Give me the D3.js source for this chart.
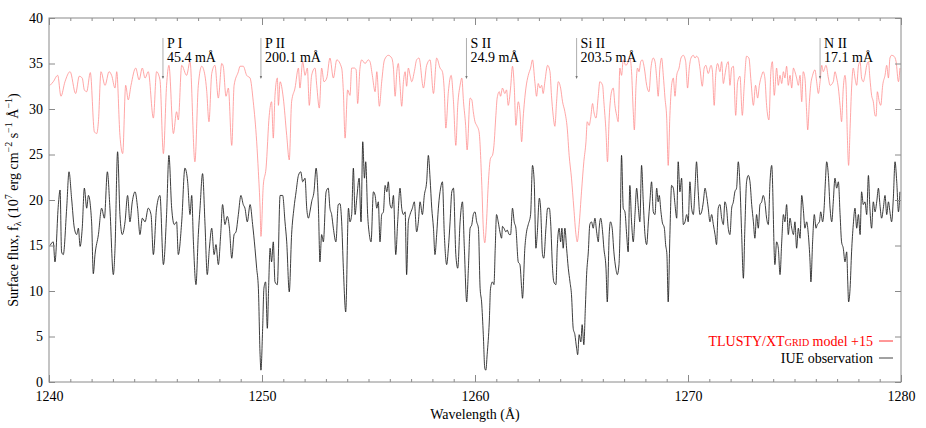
<!DOCTYPE html>
<html><head><meta charset="utf-8">
<script src="https://cdn.jsdelivr.net/npm/d3@7"></script>
<style>
body{margin:0;background:#fff;}
svg{display:block;font-family:"Liberation Serif","DejaVu Serif",serif;}
</style></head>
<body><svg id="c" width="926" height="428"></svg>
<script>
// ---- data (wavelength offsets from 1240 Å, flux in 1e7 erg cm^-2 s^-1 Å^-1) ----
const modelWave = [0.05,0.20,0.41,0.56,0.75,0.99,1.25,1.42,1.56,1.66,1.77,1.94,2.13,2.24,2.32,2.44,2.63,2.82,2.94,3.10,3.18,3.33,3.46,3.60,3.72,3.85,4.07,4.23,4.38,4.51,4.66,4.90,5.05,5.21,5.37,5.52,5.63,5.84,5.99,6.07,6.23,6.46,6.62,
6.85,7.01,7.17,7.32,7.40,7.51,7.64,7.79,7.95,8.11,8.18,8.31,8.42,8.58,8.69,8.89,8.97,9.12,9.28,9.44,9.59,9.75,9.83,9.91,9.95,10.06,10.19,10.34,10.45,10.53,10.61,10.72,10.77,10.85,11.00,11.16,11.28,11.39,11.55,11.71,11.78,11.91,12.02,12.13,12.22,12.33,12.49,12.57,12.69,12.80,12.91,13.04,13.19,13.35,13.51,
13.74,13.82,13.90,14.02,14.13,14.21,14.34,14.42,14.49,14.60,14.68,14.84,14.99,15.07,15.18,15.31,15.39,15.51,15.62,15.75,15.93,16.09,16.17,16.25,16.33,16.40,16.48,16.56,16.64,16.72,16.79,16.87,16.95,17.03,17.15,17.26,17.37,17.58,17.73,17.89,18.05,18.20,18.36,18.47,18.56,18.63,18.75,18.88,18.99,19.10,19.19,19.30,19.38,19.46,19.56,19.63,19.77,19.85,19.92,20.00,20.08,20.19,20.32,
20.39,20.46,20.54,20.62,20.73,20.82,20.89,20.98,21.04,21.14,21.20,21.29,21.40,21.48,21.56,21.67,21.76,21.84,21.92,22.03,22.11,22.19,22.26,22.39,22.50,22.61,22.70,22.81,22.89,22.97,23.05,23.13,23.20,23.28,23.41,23.52,23.59,23.67,23.75,23.83,23.91,24.02,24.11,24.22,24.33,24.42,24.53,24.64,24.74,24.80,24.89,25.00,25.11,25.21,25.27,25.36,25.43,25.52,25.58,25.68,25.79,25.86,25.99,26.05,26.15,26.22,26.30,26.41,26.49,26.57,26.65,26.72,26.80,26.88,26.96,27.08,
27.20,27.27,27.35,27.43,27.48,27.56,27.63,27.70,27.78,27.85,27.95,28.06,28.17,28.26,28.37,28.45,28.53,28.60,28.68,28.76,28.84,28.92,29.00,29.07,29.15,29.23,29.31,29.39,29.47,29.58,29.67,29.78,29.89,29.98,30.06,30.14,30.25,30.33,30.40,30.48,30.56,30.67,30.76,30.84,30.95,31.08,31.14,31.23,31.30,31.39,31.50,31.58,31.66,31.73,31.81,31.89,31.97,32.05,32.13,32.24,32.33,32.44,32.55,32.64,32.75,32.86,32.96,33.07,33.17,33.27,33.35,33.46,33.53,33.61,33.69,33.80,33.89,33.96,34.05,
34.16,34.24,34.32,34.40,34.48,34.55,34.63,34.71,34.79,34.87,34.95,35.02,35.10,35.18,35.26,35.34,35.41,35.49,35.57,35.62,35.70,35.76,35.85,35.96,36.04,36.12,36.20,36.28,36.35,36.48,36.59,36.67,36.82,36.90,36.98,37.06,37.14,37.21,37.29,37.37,37.42,37.48,37.54,37.61,37.68,37.76,37.84,37.92,38.00,38.08,38.15,38.23,38.31,38.39,38.47,38.54,38.62,38.70,38.78,38.83,38.89,38.98,39.05,39.14,39.25,39.33,39.41,39.48,39.56,39.67,39.77,39.88,39.95];
const modelFlux = [32.6,33.0,33.7,31.4,33.0,34.1,31.7,33.6,33.4,32.1,31.9,34.0,27.5,27.3,28.6,34.1,32.6,34.1,33.7,32.3,34.1,27.1,25.1,32.6,31.0,32.6,34.5,33.2,34.5,33.4,34.1,29.0,34.1,33.2,25.1,32.6,34.8,27.3,29.7,28.8,34.8,33.7,35.2,
24.2,32.6,34.7,33.7,32.1,28.6,33.9,34.8,31.2,35.0,34.7,31.4,32.3,26.0,32.6,34.1,34.7,34.7,33.7,33.4,30.8,26.4,23.1,19.1,16.0,21.6,23.5,29.3,30.8,26.8,31.5,33.4,30.4,33.0,31.2,27.1,24.4,30.8,32.3,34.5,32.3,35.2,33.7,34.5,30.4,33.7,34.5,32.6,30.1,34.5,33.0,33.4,35.6,33.4,35.4,
34.5,31.9,26.8,32.1,31.5,34.5,34.5,34.3,30.6,34.5,35.4,35.0,35.4,35.2,33.7,31.9,34.1,30.3,33.0,35.4,35.9,35.6,34.5,31.4,34.1,35.0,32.6,30.3,33.0,34.1,32.5,34.5,33.7,33.0,34.1,35.4,35.6,32.3,34.8,35.4,31.7,35.6,34.5,34.1,31.9,27.9,31.9,33.7,30.8,26.0,30.4,32.6,33.4,30.8,28.2,25.5,31.2,31.0,29.7,28.6,28.2,27.5,21.6,
16.9,15.3,17.6,21.6,24.6,24.9,26.0,29.3,31.2,31.9,31.4,32.3,31.7,32.1,30.4,32.3,34.7,32.6,28.2,30.8,29.7,26.4,29.0,32.3,33.7,34.5,35.4,33.0,31.4,32.8,32.3,32.6,31.7,33.0,34.8,34.1,31.5,29.3,28.1,30.8,33.0,32.3,30.8,29.7,27.9,24.9,22.4,19.1,16.2,15.4,17.3,20.9,24.2,26.4,28.6,28.2,29.0,30.6,29.7,29.0,31.5,33.0,32.6,30.8,27.5,24.2,29.0,31.9,32.3,30.4,29.3,28.6,34.5,33.7,35.4,34.8,
35.2,35.6,34.1,29.7,27.7,32.6,34.5,34.1,35.2,35.4,34.5,32.6,31.9,34.5,35.6,35.2,33.4,31.4,34.5,35.6,33.7,31.2,29.0,23.8,29.3,32.6,33.4,31.4,33.7,34.5,35.6,35.9,35.2,32.3,34.5,35.6,35.9,35.6,35.8,35.6,34.5,32.5,34.5,34.8,33.9,34.8,34.3,30.4,33.7,35.0,34.1,35.2,32.8,33.7,34.8,35.2,32.6,34.5,34.7,29.3,33.0,33.6,29.3,32.6,35.8,35.6,33.0,30.4,32.6,31.2,32.6,33.7,34.1,33.4,30.4,28.8,34.1,35.2,31.5,
34.5,32.6,33.7,32.8,34.1,33.4,34.7,32.6,33.7,32.3,34.5,34.1,33.4,32.6,33.7,30.8,34.1,33.4,29.7,27.7,30.8,32.6,33.7,34.3,33.0,31.7,33.0,34.8,34.1,34.8,33.4,32.6,33.0,34.1,33.4,32.3,30.4,28.6,32.3,33.7,32.6,27.1,23.8,27.9,32.3,34.5,33.4,32.6,34.7,35.2,33.4,33.0,33.7,34.8,35.2,33.4,31.5,30.8,29.3,29.2,31.9,30.8,30.4,32.6,33.7,34.8,33.4,35.6,35.9,35.8,35.2,33.0,34.5];

const obsWave = [0.05,0.20,0.28,0.44,0.52,0.59,0.67,0.83,0.94,1.06,1.19,1.30,1.38,1.46,1.56,1.66,1.77,1.85,2.00,2.08,2.16,2.32,2.47,2.60,2.74,2.86,3.02,3.10,3.22,3.33,3.44,3.57,3.69,3.80,3.91,4.04,4.16,4.27,4.38,4.51,4.66,4.79,4.90,5.05,5.21,5.37,5.52,5.63,5.76,5.88,5.99,6.07,6.23,6.38,6.51,6.62,6.70,
6.78,6.90,7.01,7.09,7.21,7.32,7.43,7.53,7.64,7.75,7.84,7.95,8.06,8.15,8.26,8.37,8.47,8.58,8.69,8.78,8.89,9.01,9.12,9.20,9.31,9.44,9.56,9.67,9.75,9.83,9.91,9.95,10.03,10.09,10.17,10.25,10.31,10.38,10.45,10.53,10.61,10.72,10.85,10.97,11.08,11.16,11.28,11.39,11.50,11.60,11.71,11.82,11.91,12.02,12.10,12.18,12.25,12.33,12.44,12.54,12.65,12.72,12.80,12.88,13.01,13.11,13.19,13.27,13.35,13.47,13.58,
13.66,13.74,13.82,13.93,14.06,14.13,14.21,14.29,14.37,14.45,14.56,14.65,14.73,14.81,14.87,14.96,15.04,15.12,15.23,15.31,15.39,15.46,15.54,15.62,15.70,15.78,15.86,15.93,16.01,16.09,16.17,16.28,16.37,16.48,16.56,16.64,16.72,16.79,16.87,16.95,17.06,17.15,17.26,17.34,17.42,17.53,17.62,17.73,17.81,17.89,17.97,18.05,18.12,18.20,18.28,18.41,18.47,18.56,18.67,18.75,18.83,18.91,18.99,19.10,19.19,19.30,19.41,19.50,19.61,19.69,19.77,19.85,19.92,20.00,20.08,20.16,20.24,
20.31,20.39,20.46,20.51,20.57,20.67,20.73,20.82,20.89,20.95,21.01,21.09,21.17,21.25,21.29,21.36,21.45,21.51,21.61,21.67,21.76,21.84,21.92,22.03,22.11,22.19,22.23,22.34,22.42,22.50,22.61,22.70,22.78,22.86,22.92,23.02,23.08,23.17,23.23,23.33,23.41,23.49,23.55,23.64,23.70,23.80,23.86,23.95,24.02,24.08,24.14,24.22,24.30,24.38,24.46,24.53,24.61,24.69,24.77,24.82,24.89,24.97,25.03,25.11,25.18,25.24,25.32,25.39,25.47,25.55,25.63,25.71,25.79,25.83,25.90,25.99,26.05,26.15,26.21,26.30,26.36,26.44,26.52,26.61,26.68,26.76,26.82,26.88,26.96,27.04,27.12,27.19,
27.27,27.35,27.43,27.51,27.59,27.67,27.74,27.82,27.90,27.98,28.06,28.14,28.21,28.29,28.37,28.45,28.53,28.60,28.65,28.73,28.79,28.89,28.95,29.01,29.07,29.15,29.23,29.31,29.39,29.47,29.54,29.62,29.70,29.78,29.86,29.94,30.01,30.09,30.17,30.25,30.33,30.40,30.48,30.56,30.64,30.72,30.80,30.87,30.95,31.03,31.11,31.19,31.27,31.34,31.42,31.50,31.58,31.66,31.73,31.81,31.89,31.97,32.05,32.13,32.20,32.28,32.36,32.44,32.52,32.60,32.67,32.75,32.83,32.91,32.99,33.07,33.14,33.22,33.30,33.38,33.46,33.53,33.61,33.69,33.77,33.85,33.93,
34.08,34.16,34.24,34.32,34.40,34.48,34.55,34.63,34.71,34.79,34.87,34.95,35.02,35.10,35.18,35.26,35.34,35.41,35.49,35.57,35.65,35.73,35.77,35.85,35.93,36.01,36.07,36.17,36.23,36.32,36.39,36.45,36.51,36.59,36.67,36.75,36.82,36.90,36.98,37.06,37.14,37.21,37.29,37.37,37.45,37.50,37.54,37.61,37.68,37.76,37.84,37.92,38.00,38.08,38.15,38.23,38.31,38.39,38.47,38.54,38.62,38.70,38.78,38.86,38.94,39.01,39.09,39.17,39.25,39.33,39.41,39.48,39.56,39.64,39.72,39.80,39.88,39.95];
const obsFlux = [15.0,15.4,13.2,19.5,21.1,14.3,14.0,19.1,23.1,20.2,16.9,16.2,16.9,14.9,16.9,21.3,19.1,20.5,17.6,11.9,14.0,16.2,19.1,18.0,23.1,19.1,11.8,14.7,25.3,18.4,16.2,17.6,20.5,17.6,19.8,20.9,19.1,16.2,18.0,17.6,19.1,18.4,14.0,19.1,20.5,12.9,18.4,24.9,19.1,17.3,17.6,14.0,17.6,23.5,22.0,18.4,20.5,
15.4,10.7,16.2,19.1,22.9,17.6,11.8,14.7,16.9,14.0,15.1,12.9,16.2,19.5,17.3,18.2,16.9,13.6,16.2,16.5,18.4,20.5,19.5,19.1,17.6,19.5,17.3,14.7,12.5,10.3,3.0,1.3,5.9,10.3,11.0,5.9,10.3,14.7,13.2,15.4,11.0,10.7,20.5,20.5,17.6,15.4,9.9,16.2,19.1,20.9,22.7,23.1,22.0,22.4,19.1,18.0,18.7,19.8,20.9,23.5,19.1,13.2,16.2,15.4,20.9,21.3,19.1,18.4,16.9,15.4,19.5,
19.6,17.6,12.5,7.7,19.1,17.6,18.4,23.5,18.4,20.2,22.4,17.6,26.4,22.4,24.2,18.4,16.2,15.4,20.9,20.5,19.1,19.8,15.4,18.4,18.7,21.6,20.9,22.0,19.5,19.1,20.5,14.0,17.6,21.3,19.1,18.4,18.7,11.8,17.6,18.4,19.1,19.8,16.5,17.6,19.8,18.4,20.5,22.0,24.9,22.4,19.1,16.9,14.0,16.2,19.1,21.6,22.0,16.2,12.9,14.7,17.6,20.9,21.3,14.0,12.5,17.6,19.8,14.7,8.8,12.5,16.9,17.3,18.4,18.7,17.6,16.9,10.3,
8.8,5.2,1.5,1.3,3.0,6.6,10.3,11.0,10.7,14.7,18.4,17.6,16.5,15.8,17.1,16.9,16.5,16.7,16.2,16.2,19.1,17.6,16.9,13.2,12.9,10.3,9.2,14.7,16.5,17.3,18.4,23.8,22.0,14.7,16.2,20.2,19.1,14.0,13.6,16.9,19.1,19.1,17.6,12.5,11.0,10.7,14.7,16.9,15.4,16.9,14.7,16.9,14.7,12.5,11.0,9.6,5.9,5.2,3.7,3.0,5.2,4.4,6.3,4.1,8.1,11.8,14.3,17.3,17.6,16.9,18.0,16.5,15.4,16.9,18.0,16.5,14.7,12.5,8.8,16.2,17.6,16.9,14.3,12.5,11.8,12.9,17.6,24.9,19.1,18.7,16.2,14.3,
21.6,17.6,15.4,18.4,21.3,19.1,17.6,23.8,19.8,16.2,15.1,17.6,19.8,22.0,18.7,18.4,21.3,19.8,20.5,18.7,17.6,16.9,15.1,14.0,8.8,16.2,21.6,21.3,19.5,18.0,24.2,20.9,22.4,17.3,17.6,18.4,17.6,22.0,19.1,18.4,21.3,24.2,20.9,18.4,18.7,19.8,21.3,20.5,19.1,17.6,18.4,17.3,16.2,15.1,19.1,19.5,18.0,17.3,19.8,19.1,16.9,16.2,19.1,19.8,20.9,21.3,24.2,21.6,16.2,11.4,16.9,22.0,22.7,22.0,19.5,17.6,15.8,18.4,16.9,19.5,19.8,20.5,19.8,18.0,17.3,22.0,23.8,
12.9,15.4,14.7,11.8,15.4,18.4,17.6,19.5,16.2,18.0,16.9,16.2,17.6,14.7,16.9,15.8,20.5,19.1,16.9,17.6,16.2,13.2,11.0,15.4,18.4,16.9,17.3,17.6,18.7,17.6,19.1,22.0,24.2,22.7,19.1,17.6,19.8,22.4,21.3,22.0,18.4,15.4,14.7,13.2,14.3,11.0,8.8,10.3,14.3,17.3,19.1,16.9,18.4,16.2,20.9,19.5,19.8,18.4,22.7,19.1,16.9,19.8,18.7,19.8,21.3,19.5,18.0,19.1,20.5,18.4,19.8,18.7,17.6,20.2,24.2,22.0,18.7,20.9];

const waveBase = 1240;
const xTicksMajor = [1240,1250,1260,1270,1280];
const yTicks = [0,5,10,15,20,25,30,35,40];
const lineIds = ["P I","P II","S II","Si II","N II"];
const lineWaves = [1245.35,1249.95,1259.60,1264.77,1276.20];
const lineEW = ["45.4 mÅ","200.1 mÅ","24.9 mÅ","203.5 mÅ","17.1 mÅ"];

// ---- drawing ----
const svg = d3.select("#c");
const L=49, R=901, T=18, B=382;
const x = d3.scaleLinear().domain([1240,1280]).range([L,R]);
const y = d3.scaleLinear().domain([0,40]).range([B,T]);
const frame = "#8a8a8a";

const model = modelWave.map((w,i)=>[w+waveBase, modelFlux[i]]);
const obs = obsWave.map((w,i)=>[w+waveBase, obsFlux[i]]);
const line = d3.line().x(d=>x(d[0])).y(d=>y(d[1])).curve(d3.curveMonotoneX);

svg.append("path").datum(model).attr("d",line).attr("fill","none")
  .attr("stroke","#ff8888").attr("stroke-width",0.75);
svg.append("path").datum(obs).attr("d",line).attr("fill","none")
  .attr("stroke","#1a1a1a").attr("stroke-width",0.85);

// frame
svg.append("rect").attr("x",L).attr("y",T).attr("width",R-L).attr("height",B-T)
  .attr("fill","none").attr("stroke",frame).attr("stroke-width",1);

const minor = d3.range(1240,1281,1);
function styleAxis(g){ g.select(".domain").remove(); g.selectAll(".tick line").attr("stroke",frame);
  g.selectAll("text").attr("fill","#000").style("font-size","14px").style("font-family","'Liberation Serif',serif"); }

svg.append("g").attr("transform",`translate(0,${B})`)
  .call(d3.axisBottom(x).tickValues(minor).tickSize(-3).tickFormat(""))
  .call(styleAxis);
svg.append("g").attr("transform",`translate(0,${T})`)
  .call(d3.axisTop(x).tickValues(minor).tickSize(-3).tickFormat(""))
  .call(styleAxis);
svg.append("g").attr("transform",`translate(0,${B})`)
  .call(d3.axisBottom(x).tickValues(xTicksMajor).tickSize(-7).tickPadding(9).tickFormat(d3.format("d")))
  .call(styleAxis);
svg.append("g").attr("transform",`translate(0,${T})`)
  .call(d3.axisTop(x).tickValues(xTicksMajor).tickSize(-7).tickFormat(""))
  .call(styleAxis);
svg.append("g").attr("transform",`translate(${L},0)`)
  .call(d3.axisLeft(y).tickValues(yTicks).tickSize(-6).tickPadding(6).tickFormat(d3.format("d")))
  .call(styleAxis);
svg.append("g").attr("transform",`translate(${R},0)`)
  .call(d3.axisRight(y).tickValues(yTicks).tickSize(-6).tickFormat(""))
  .call(styleAxis);

// axis titles
svg.append("text").attr("x",(L+R)/2).attr("y",419).attr("text-anchor","middle")
  .style("font-size","14px").text("Wavelength (Å)");
const yt = svg.append("text").attr("transform",`translate(18,${(T+B)/2}) rotate(-90)`)
  .attr("text-anchor","middle").style("font-size","14px");
yt.append("tspan").text("Surface flux, f");
yt.append("tspan").attr("dy",3).style("font-size","10px").text("λ");
yt.append("tspan").attr("dy",-3).text(" (10");
yt.append("tspan").attr("dy",-6).style("font-size","10px").text("7");
yt.append("tspan").attr("dy",6).text(" erg cm");
yt.append("tspan").attr("dy",-6).style("font-size","10px").text("−2");
yt.append("tspan").attr("dy",6).text(" s");
yt.append("tspan").attr("dy",-6).style("font-size","10px").text("−1");
yt.append("tspan").attr("dy",6).text(" Å");
yt.append("tspan").attr("dy",-6).style("font-size","10px").text("−1");
yt.append("tspan").attr("dy",6).text(")");

// line annotations
lineWaves.forEach((w,i)=>{
  const px = x(w);
  svg.append("line").attr("x1",px).attr("x2",px).attr("y1",38).attr("y2",78)
    .attr("stroke","#999").attr("stroke-width",0.8);
  svg.append("path").attr("d",`M${px-1.2},76 L${px+1.2},76 L${px},79 Z`).attr("fill","#777");
  svg.append("text").attr("x",px+4).attr("y",48).style("font-size","14px").text(lineIds[i]);
  svg.append("text").attr("x",px+4).attr("y",62).style("font-size","14px").text(lineEW[i]);
});

// legend
const lg1 = svg.append("text").attr("x",873).attr("y",346).attr("text-anchor","end")
  .attr("fill","#ff0000").style("font-size","14px");
lg1.append("tspan").text("TLUSTY/XT");
lg1.append("tspan").style("font-size","10px").text("GRID");
lg1.append("tspan").text(" model +15");
svg.append("line").attr("x1",879).attr("x2",893).attr("y1",341).attr("y2",341)
  .attr("stroke","#ff3030").attr("stroke-width",1);
svg.append("text").attr("x",873).attr("y",363).attr("text-anchor","end")
  .attr("fill","#000").style("font-size","14px").text("IUE observation");
svg.append("line").attr("x1",879).attr("x2",893).attr("y1",358).attr("y2",358)
  .attr("stroke","#444").attr("stroke-width",1);
</script></body></html>
